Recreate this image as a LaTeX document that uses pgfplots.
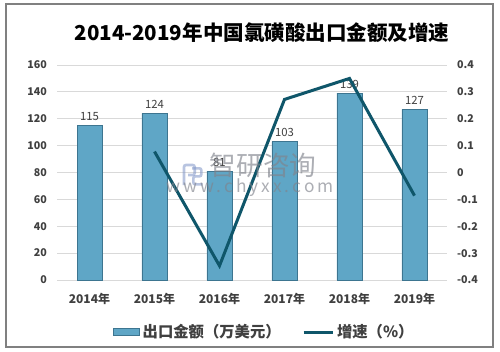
\documentclass[border=0pt]{standalone}
\usepackage{fontspec}
\setmainfont{Noto Sans CJK SC}
\usepackage{pgfplots}
\pgfplotsset{compat=1.18}
\definecolor{barfill}{HTML}{5FA6C6}
\definecolor{bardraw}{HTML}{3D7590}
\definecolor{linec}{HTML}{0F566A}
\definecolor{gridc}{HTML}{D9D9D9}
\definecolor{txt}{HTML}{404040}
\definecolor{wm}{HTML}{80838C}
\definecolor{wmicon}{HTML}{7F95C8}
\begin{document}
\begin{tikzpicture}
\path[fill=white] (0,0) rectangle (375pt,263.25pt);
\draw[color=black!50, line width=0.8pt] (4.5pt,3pt) rectangle (369.75pt,260.25pt);
\node[font=\bfseries\fontsize{15.4}{17}\selectfont] at (196.5pt,238.5pt) {2014-2019年中国氯磺酸出口金额及增速};
\begin{axis}[at={(42.75pt,53.25pt)}, anchor=south west, scale only axis,
  width=292.5pt, height=161.25pt,
  xmin=-0.5, xmax=5.5, ymin=0, ymax=160,
  ytick={0,20,40,60,80,100,120,140,160},
  xtick={0,1,2,3,4,5},
  xticklabels={2014年,2015年,2016年,2017年,2018年,2019年},
  axis line style={draw=none}, major tick length=0pt,
  ymajorgrids, grid style={gridc, line width=0.75pt},
  /pgf/number format/assume math mode=true,
  ticklabel style={font=\bfseries\fontsize{8}{9}\selectfont, text=txt},
  xticklabel style={font=\bfseries\fontsize{9}{10}\selectfont, yshift=-6pt},
  yticklabel style={xshift=-4pt},
  ybar, bar width=18.75pt,
  nodes near coords,
  nodes near coords style={font=\fontsize{8.5}{9}\selectfont, text=txt},
  clip=false]
\addplot[fill=barfill, draw=bardraw, line width=0.6pt] coordinates {(0,115)(1,124)(2,81)(3,103)(4,139)(5,127)};
\end{axis}
\begin{axis}[at={(42.75pt,53.25pt)}, anchor=south west, scale only axis,
  width=292.5pt, height=161.25pt,
  xmin=-0.5, xmax=5.5, ymin=-0.4, ymax=0.4,
  ytick={-0.4,-0.3,-0.2,-0.1,0,0.1,0.2,0.3,0.4},
  axis x line=none, axis y line*=right,
  y axis line style={draw=none}, major tick length=0pt,
  /pgf/number format/assume math mode=true,
  /pgf/number format/fixed,
  ticklabel style={font=\bfseries\fontsize{8}{9}\selectfont, text=txt},
  yticklabel style={xshift=4pt},
  legend style={at={(0.532,-0.242)}, anchor=center, draw=none, fill=none,
    legend columns=2, font=\bfseries\fontsize{11.5}{12}\selectfont, text=txt,
    /tikz/every even column/.append style={column sep=14pt}},
  clip=false]
\addlegendimage{legend image code/.code={\draw[fill=barfill,draw=bardraw] (0pt,-2.5pt) rectangle (20pt,2.5pt);}}
\addlegendentry{出口金额（万美元）}
\addplot[linec, line width=2.25pt, mark=none,
  legend image code/.code={\draw[linec,line width=2.25pt] (0pt,0pt) -- (22pt,0pt);}]
  coordinates {(1,0.078)(2,-0.347)(3,0.272)(4,0.350)(5,-0.086)};
\addlegendentry{增速（\%）}
\end{axis}
% watermark
\begin{scope}[opacity=0.55]
\draw[wmicon, line width=2pt, rounded corners=1.5pt] (138pt,124.5pt) -- (138pt,139.5pt) -- (146pt,139.5pt) -- (146pt,132pt) -- (141pt,132pt);
\draw[wmicon, line width=2pt, rounded corners=1.5pt] (144pt,137pt) -- (151pt,137pt) -- (151pt,131pt) -- (145pt,131pt) -- (145pt,125pt) -- (152pt,125pt);
\end{scope}
\node[text=wm, text opacity=0.65, font=\fontsize{20}{22}\selectfont] at (197.25pt,139.5pt) {智研咨询};
\node[text=wm, text opacity=0.65, font=\fontsize{13}{14}\selectfont] at (187.5pt,122.25pt) {w\,w\,w\,.\,c\,h\,y\,x\,x\,.\,c\,o\,m};
\end{tikzpicture}
\end{document}
